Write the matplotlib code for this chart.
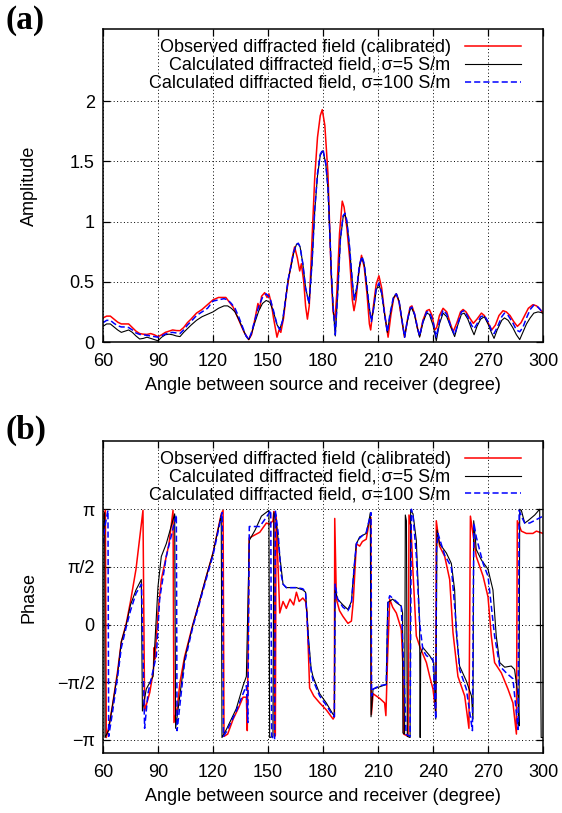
import numpy as np
import matplotlib.pyplot as plt

plt.rcParams['font.family'] = ['Liberation Sans', 'DejaVu Sans']

# ---- amplitude data (angle in degree, amplitude) ----
obs_amp_deg = [60, 62, 64, 66, 68, 70, 72, 74, 76, 78, 80, 82, 84, 86, 88, 90, 92, 94, 96, 98,
               100, 102, 104, 106, 108, 111, 114, 117, 120, 123, 125, 127, 129, 131, 133, 135, 137,
               139.5, 141, 143, 144.5, 145.5, 146.5, 148.2, 149.5, 150.5, 151.8, 153, 154.9, 156,
               157, 158.5, 160, 161.5, 163, 164.5, 166, 167.3, 168.2, 169.5, 170.5, 171.5, 172.5,
               174, 175.5, 177, 178.5, 179.6, 181, 182.7, 184.5, 185.5, 186.5, 187.5, 189, 190.5,
               191.5, 193, 194.5, 196, 196.9, 198, 199.5, 201, 202.5, 204, 205.3, 206, 207.5, 209,
               210.5, 212, 213.5, 215.5, 217, 218.5, 220, 221.5, 223, 224.5, 226, 227.5, 228.5,
               230, 231.5, 232.7, 234.5, 236.5, 238, 239.5, 241, 242, 243.5, 245.5, 247.5, 249.5,
               251, 253, 255, 256.4, 258, 260, 262, 264, 266.4, 268, 270, 272, 274, 276, 278.2,
               280, 282, 284, 286, 288, 290, 292, 294.5, 296.5, 298.5, 300]
obs_amp = [0.20, 0.215, 0.215, 0.19, 0.165, 0.15, 0.15, 0.15, 0.12, 0.09, 0.07, 0.065, 0.063, 0.07,
           0.06, 0.044, 0.06, 0.08, 0.09, 0.10, 0.095, 0.094, 0.12, 0.16, 0.19, 0.24, 0.27, 0.31,
           0.35, 0.37, 0.37, 0.37, 0.33, 0.29, 0.22, 0.15, 0.08, 0.02, 0.06, 0.20, 0.32, 0.28, 0.38,
           0.41, 0.37, 0.40, 0.32, 0.20, 0.04, 0.10, 0.08, 0.20, 0.40, 0.55, 0.68, 0.79, 0.70, 0.59,
           0.65, 0.50, 0.30, 0.19, 0.30, 0.85, 1.37, 1.70, 1.88, 1.93, 1.80, 1.40, 0.54, 0.25, 0.18,
           0.40, 0.90, 1.17, 1.12, 0.95, 0.70, 0.35, 0.26, 0.35, 0.58, 0.72, 0.62, 0.40, 0.15, 0.10,
           0.30, 0.48, 0.55, 0.45, 0.25, 0.04, 0.22, 0.36, 0.40, 0.33, 0.18, 0.04, 0.18, 0.29, 0.30,
           0.23, 0.12, 0.05, 0.18, 0.26, 0.27, 0.22, 0.10, 0.12, 0.22, 0.28, 0.25, 0.15, 0.085,
           0.16, 0.25, 0.27, 0.25, 0.20, 0.155, 0.19, 0.24, 0.22, 0.16, 0.10, 0.14, 0.22, 0.26,
           0.25, 0.22, 0.17, 0.13, 0.16, 0.22, 0.28, 0.31, 0.30, 0.27, 0.24]

s5_amp_deg = [60, 62, 64, 66, 68, 70, 72, 74, 76, 78, 80, 82, 84, 86, 88, 90, 92, 94, 96, 98, 100,
              102, 104, 106, 108, 111, 114, 117, 120, 123, 126, 128, 130, 132, 134, 136, 138, 139.5,
              141, 143, 145, 147, 149, 151, 153, 155, 156.5, 158, 160, 161, 162.5, 164, 165.5,
              166.5, 167.5, 169, 170.5, 172.4, 174, 175.5, 177, 178.5, 180, 181.5, 182.7, 184,
              184.5, 185.5, 186.7, 188, 189.5, 191, 192, 193, 194.5, 196, 197, 198.5, 200, 201.3,
              202.5, 204, 205.3, 206.4, 207.5, 209, 210.5, 212, 213.5, 215.1, 216.5, 218.5, 220,
              221.5, 223, 224.5, 226, 227.5, 228.5, 230, 231.5, 232.7, 234.5, 236.5, 238, 240,
              241.8, 243.5, 245.5, 247.5, 249.5, 251.8, 253.5, 255.5, 257, 259, 261, 262.4, 264,
              266, 268, 270, 271.8, 273.3, 275, 277.5, 279, 281, 283.5, 285.5, 287.3, 289, 291,
              293, 295, 297.3, 299, 300]
s5_amp = [0.13, 0.15, 0.15, 0.125, 0.10, 0.08, 0.09, 0.10, 0.08, 0.05, 0.025, 0.03, 0.04, 0.03,
          0.02, 0.01, 0.04, 0.06, 0.065, 0.06, 0.05, 0.045, 0.08, 0.11, 0.14, 0.18, 0.21, 0.23, 0.25,
          0.28, 0.30, 0.30, 0.28, 0.25, 0.19, 0.12, 0.05, 0.02, 0.07, 0.17, 0.26, 0.32, 0.345, 0.33,
          0.25, 0.14, 0.11, 0.18, 0.40, 0.52, 0.62, 0.74, 0.81, 0.82, 0.79, 0.65, 0.45, 0.32, 0.65,
          1.09, 1.38, 1.55, 1.59, 1.48, 1.28, 0.80, 0.59, 0.30, 0.05, 0.40, 0.85, 1.04, 1.06, 1.00,
          0.78, 0.50, 0.35, 0.45, 0.64, 0.70, 0.64, 0.45, 0.28, 0.18, 0.26, 0.43, 0.48, 0.40, 0.24,
          0.08, 0.22, 0.37, 0.40, 0.34, 0.19, 0.04, 0.17, 0.27, 0.28, 0.22, 0.11, 0.04, 0.16, 0.24,
          0.23, 0.14, 0.01, 0.15, 0.24, 0.21, 0.13, 0.045, 0.14, 0.23, 0.24, 0.19, 0.11, 0.06, 0.13,
          0.19, 0.21, 0.15, 0.08, 0.03, 0.10, 0.18, 0.20, 0.18, 0.12, 0.06, 0.02, 0.08, 0.15, 0.20,
          0.24, 0.25, 0.245, 0.237]

s100_amp_deg = [60, 62, 64, 66, 68, 70, 72, 74, 76, 78, 80, 82, 84, 86, 88, 90, 92, 94, 96, 98, 100,
                102, 104, 106, 108, 111, 114, 117, 120, 123, 126, 128, 130, 132, 134, 136, 138, 139.5,
                141, 143, 145, 147, 149, 151, 153, 155, 156.5, 158, 160, 161, 162.5, 164, 165.5,
                166.5, 167.5, 169, 170.5, 172.4, 174, 175.5, 177, 178.5, 180, 181.5, 182.7, 184,
                184.5, 185.5, 186.7, 188, 189.5, 191, 192, 193, 194.5, 196, 197, 198.5, 200, 201.3,
                202.5, 204, 205.3, 206.4, 207.5, 209, 210.5, 212, 213.5, 215.1, 216.5, 218.5, 220,
                221.5, 223, 224.5, 226, 227.5, 228.5, 230, 231.5, 232.7, 234.5, 236.5, 238, 240,
                241.8, 243.5, 245.5, 247.5, 249.5, 251.8, 253.5, 255.5, 257, 259, 261, 262.4, 264,
                266, 268, 270, 271.8, 273.3, 275, 277.5, 279, 281, 283.5, 285.5, 287.3, 289, 291,
                293, 295, 297.3, 299, 300]
s100_amp = [0.16, 0.18, 0.18, 0.155, 0.135, 0.125, 0.125, 0.12, 0.10, 0.075, 0.063, 0.06, 0.055,
            0.05, 0.045, 0.04, 0.05, 0.066, 0.075, 0.08, 0.075, 0.07, 0.10, 0.14, 0.17, 0.22, 0.25,
            0.28, 0.34, 0.35, 0.36, 0.35, 0.32, 0.28, 0.21, 0.13, 0.05, 0.02, 0.08, 0.19, 0.30, 0.37,
            0.40, 0.37, 0.26, 0.14, 0.10, 0.18, 0.40, 0.52, 0.63, 0.75, 0.81, 0.82, 0.79, 0.65, 0.45,
            0.32, 0.65, 1.10, 1.40, 1.56, 1.60, 1.48, 1.28, 0.80, 0.59, 0.30, 0.06, 0.40, 0.86, 1.05,
            1.07, 1.01, 0.79, 0.50, 0.35, 0.46, 0.65, 0.71, 0.65, 0.46, 0.28, 0.17, 0.27, 0.44, 0.49,
            0.41, 0.24, 0.08, 0.23, 0.38, 0.40, 0.34, 0.19, 0.04, 0.18, 0.28, 0.29, 0.23, 0.12, 0.05,
            0.17, 0.25, 0.25, 0.17, 0.04, 0.17, 0.265, 0.23, 0.14, 0.06, 0.15, 0.25, 0.26, 0.21,
            0.14, 0.11, 0.15, 0.21, 0.22, 0.17, 0.10, 0.07, 0.12, 0.21, 0.24, 0.22, 0.16, 0.10,
            0.085, 0.12, 0.20, 0.27, 0.306, 0.29, 0.26, 0.25]

# ---- phase data (angle in degree, phase in units of pi) ----
obs_ph_deg = [60, 61.3, 61.8, 63, 65, 68, 70, 72.7, 75, 78, 81.8, 82.7, 85.5, 87.5, 87.9, 88.3, 90,
              91.8, 94.5, 96, 98.2, 98.7, 100.5, 102, 104.5, 109, 113, 116.4, 120, 124.5, 125.5,
              126, 128, 131, 134, 136.4, 138.2, 138.7, 139.7, 142, 145.5, 149.1, 151, 152.7, 153.2,
              153.6, 154.0, 154.4, 155.5, 156.4, 158.2, 160, 162, 164, 165.5, 167, 169, 170.5,
              171.3, 172.7, 175, 178.2, 181.8, 185.5, 186.2, 186.4, 187.3, 189, 190.9, 193.6,
              195.5, 196.5, 198.2, 200, 201.5, 203.6, 205.1, 206.1, 206.4, 207.3, 210.9, 213.6,
              214.3, 215.2, 216.4, 218, 220, 222.7, 223.6, 224, 226.4, 226.9, 228, 229.1, 230.9,
              233, 236.4, 238.2, 240, 241.5, 241.8, 243.6, 246.4, 249.1, 250.9, 253.6, 257.3,
              259.6, 260.4, 263.6, 267.3, 270, 271.8, 273.6, 277.3, 280.9, 283.6, 285.5, 286,
              288.2, 290.9, 294.5, 296.4, 300]
obs_ph = [0.93, 0.99, -0.98, -0.90, -0.72, -0.40, -0.15, 0.01, 0.20, 0.48, 0.99, -0.75, -0.59,
          -0.40, -0.20, -0.30, 0.10, 0.39, 0.59, 0.70, 0.99, -0.85, -0.72, -0.50, -0.28, 0.00, 0.22,
          0.42, 0.62, 0.96, 0.99, -0.97, -0.95, -0.82, -0.72, -0.63, -0.63, -0.92, 0.75, 0.77, 0.80,
          0.88, 0.87, 0.90, 0.98, -0.97, -0.96, 0.95, 0.50, 0.10, 0.20, 0.14, 0.22, 0.17, 0.28,
          0.20, 0.23, 0.20, 0.10, -0.55, -0.62, -0.68, -0.74, -0.82, -0.80, 0.92, 0.22, 0.12, 0.07,
          0.01, 0.03, 0.20, 0.70, 0.68, 0.72, 0.74, 0.88, 0.93, -0.78, -0.60, -0.64, -0.68, -0.79,
          -0.30, 0.22, 0.15, 0.10, -0.04, -0.36, -0.95, -0.97, 0.95, 0.85, 0.45, -0.10, -0.20,
          -0.33, -0.45, -0.56, -0.76, 0.90, 0.68, 0.59, 0.39, -0.07, -0.45, -0.62, -0.90, 0.94,
          0.59, 0.42, 0.24, -0.10, -0.33, -0.42, -0.56, -0.68, -0.95, 0.90, 0.81, 0.79, 0.79, 0.81,
          0.79]

s5_ph_deg = [60, 60.9, 61.1, 63, 65, 68, 70, 72.7, 75, 78, 80.9, 81.5, 83.6, 87.3, 88.2, 90, 91.8,
             94.5, 99.1, 99.6, 104.5, 109.1, 116.4, 120, 124.5, 124.9, 127.3, 132.7, 136.4, 138.2,
             139.8, 143, 146.4, 150.5, 150.9, 152.7, 153.2, 154.5, 156.4, 158.2, 160, 165.5, 169,
             170.5, 172, 173.5, 174.5, 178.2, 181.8, 185.5, 186.2, 186.6, 188, 190.9, 193.6, 195.5,
             197, 198.2, 200, 203.6, 205.1, 205.8, 206.2, 207.3, 210.9, 214.5, 215.3, 218, 220,
             222.7, 223.4, 223.6, 224.5, 224.9, 225.5, 226, 227.5, 227.8, 229.1, 230.9, 232.7,
             233.0, 233.3, 234.5, 238.2, 240.4, 241.5, 242.2, 243.6, 245.5, 247.3, 250, 251.8,
             252.7, 254.5, 258.2, 261, 261.8, 262.2, 263.6, 266.4, 270, 272.7, 274.5, 276.4,
             279.1, 282.7, 284.5, 286.4, 286.9, 287.3, 288.2, 290, 291.8, 295.5, 298.2, 299, 300]
s5_ph = [0.80, 0.97, -0.98, -0.92, -0.72, -0.42, -0.15, 0.00, 0.17, 0.30, 0.39, -0.75, -0.56,
         -0.45, -0.19, 0.33, 0.59, 0.70, 0.96, -0.90, -0.30, 0.00, 0.42, 0.62, 0.95, -0.98, -0.91,
         -0.73, -0.53, -0.45, 0.73, 0.82, 0.94, 0.99, -0.98, -0.97, 0.97, 0.90, 0.60, 0.35, 0.32,
         0.32, 0.30, 0.28, -0.10, -0.38, -0.45, -0.60, -0.68, -0.78, -0.78, 0.30, 0.22, 0.17, 0.13,
         0.20, 0.50, 0.70, 0.76, 0.79, 0.90, 0.97, -0.80, -0.56, -0.54, -0.52, 0.19, 0.22, 0.19,
         0.16, 0.10, -0.94, -0.95, 0.95, 0.90, -0.97, -0.98, 0.99, 0.96, 0.73, 0.01, -0.98, -0.25,
         -0.20, -0.27, -0.33, -0.82, 0.82, 0.70, 0.66, 0.62, 0.53, 0.30, -0.07, -0.36, -0.49,
         -0.62, -0.82, 0.90, 0.65, 0.56, 0.48, 0.30, -0.10, -0.33, -0.37, -0.36, -0.39, -0.62,
         -0.88, 1.00, 0.99, 0.88, 0.90, 0.95, 1.00, -0.98, -0.98]

s100_ph_deg = [60, 61, 62.7, 63.1, 65, 68, 70, 72.7, 75, 78, 81, 82.7, 84.5, 89.1, 90.9, 94.5, 100,
               100.4, 104.5, 109, 116.4, 120, 125, 125.7, 127.3, 132.7, 136.4, 138.2, 139, 139.8,
               141, 145.5, 149.1, 151.5, 152, 153.6, 154, 155.5, 157, 158.2, 160, 165.5, 169, 170.5,
               172, 173.5, 174.5, 178.2, 181.8, 185.5, 186.2, 186.6, 188, 190.9, 193.6, 195.5, 197,
               198.2, 200, 203.6, 205.1, 206.2, 206.5, 207.3, 210.9, 214.5, 215.5, 216.4, 220,
               222.7, 224.5, 225.3, 227.5, 228.2, 229.1, 230.9, 232.7, 234.5, 236.4, 240, 241.5,
               241.9, 242.7, 246.4, 250, 251.8, 254.5, 258.2, 261.5, 262.3, 263.6, 267.3, 270,
               273.6, 276.4, 280, 283.6, 286.4, 287, 288.2, 290, 292.7, 296.4, 300]
s100_ph = [0.70, 0.85, 0.99, -0.97, -0.78, -0.45, -0.20, -0.02, 0.12, 0.27, 0.35, -0.90, -0.60,
           -0.27, 0.22, 0.59, 0.95, -0.92, -0.33, -0.02, 0.40, 0.60, 0.97, -0.97, -0.93, -0.75,
           -0.60, -0.53, -0.85, 0.85, 0.85, 0.85, 0.93, 0.99, -0.97, -1.00, 0.99, 0.80, 0.45,
           0.35, 0.32, 0.32, 0.31, 0.28, -0.15, -0.40, -0.48, -0.62, -0.70, -0.79, -0.80, 0.35,
           0.22, 0.15, 0.12, 0.18, 0.50, 0.70, 0.75, 0.80, 0.90, 0.97, -0.62, -0.56, -0.53, -0.52,
           0.20, 0.25, 0.20, 0.16, -0.56, -0.95, -0.97, 1.00, 0.94, 0.60, 0.01, -0.22, -0.27,
           -0.30, -0.82, 0.65, 0.79, 0.60, 0.50, 0.16, -0.39, -0.56, -0.92, 0.88, 0.76, 0.53, 0.42,
           -0.10, -0.36, -0.42, -0.47, -0.91, 0.99, 0.94, 0.88, 0.88, 0.91, 0.94]

labels = ['Observed diffracted field (calibrated)',
          'Calculated diffracted field, σ=5 S/m',
          'Calculated diffracted field, σ=100 S/m']
xticks = [60, 90, 120, 150, 180, 210, 240, 270, 300]
amp_ticks = [0, 0.5, 1, 1.5, 2]
ph_ticks = [-np.pi, -np.pi / 2, 0, np.pi / 2, np.pi]
ph_ticklabels = ['−π', '−π/2', '0', 'π/2', 'π']

fs = 13
fig = plt.figure(figsize=(5.62, 8.13), dpi=100)
ax1 = fig.add_axes([103 / 562, 1 - 342 / 813, 440 / 562, 313 / 813])
ax2 = fig.add_axes([103 / 562, 1 - 753 / 813, 440 / 562, 312 / 813])


def style(ax):
    ax.set_xlim(60, 300)
    ax.set_xticks(xticks)
    ax.tick_params(direction='in', top=True, right=True, length=5, width=0.9,
                   labelsize=fs, pad=6)
    ax.tick_params(axis='x', pad=8)
    ax.grid(True, color='black', linestyle=(0, (1, 2.5)), linewidth=0.7)
    for s in ax.spines.values():
        s.set_linewidth(1.1)
    ax.set_xlabel('Angle between source and receiver (degree)', fontsize=fs, labelpad=5)
    ax.yaxis.set_label_coords(-0.148, 0.5)
    ax.legend(loc='upper right', bbox_to_anchor=(0.95, 0.968), frameon=False,
              markerfirst=False, fontsize=fs, handlelength=3.1, handletextpad=0.8,
              labelspacing=0.05, borderpad=0, borderaxespad=0)


# (a) amplitude
ax1.plot(obs_amp_deg, obs_amp, color='red', lw=1.1, label=labels[0])
ax1.plot(s5_amp_deg, s5_amp, color='black', lw=0.8, label=labels[1])
ax1.plot(s100_amp_deg, s100_amp, color='blue', lw=1.1, linestyle=(0, (4, 2)), label=labels[2])
ax1.set_ylim(0, 2.6)
ax1.set_yticks(amp_ticks)
ax1.set_yticklabels(['0', '0.5', '1', '1.5', '2'])
ax1.set_ylabel('Amplitude', fontsize=fs)
style(ax1)

# (b) phase
ax2.plot(obs_ph_deg, np.array(obs_ph) * np.pi, color='red', lw=1.1, label=labels[0])
ax2.plot(s5_ph_deg, np.array(s5_ph) * np.pi, color='black', lw=0.8, label=labels[1])
ax2.plot(s100_ph_deg, np.array(s100_ph) * np.pi, color='blue', lw=1.1,
         linestyle=(0, (4, 2)), label=labels[2])
ax2.set_ylim(-3.5, 5)
ax2.set_yticks(ph_ticks)
ax2.set_yticklabels(ph_ticklabels)
ax2.set_ylabel('Phase', fontsize=fs)
style(ax2)

fig.text(0.009, 1 - 20 / 813, '(a)', fontsize=24, fontweight='bold',
         family='Liberation Serif', va='center')
fig.text(0.009, 1 - 430 / 813, '(b)', fontsize=24, fontweight='bold',
         family='Liberation Serif', va='center')

fig.savefig('out.png', dpi=100)
